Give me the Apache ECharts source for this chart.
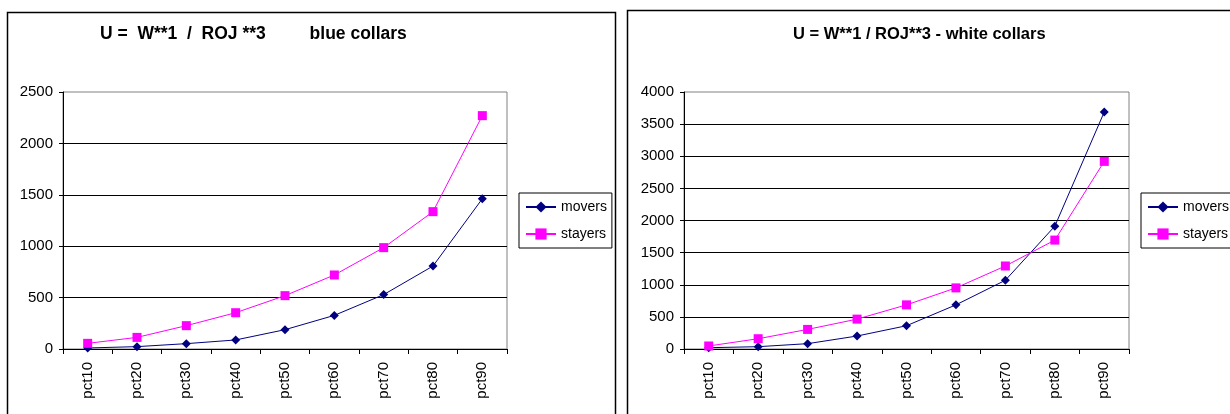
<!DOCTYPE html>
<html>
<head>
<meta charset="utf-8">
<script src="https://cdn.jsdelivr.net/npm/echarts@6/dist/echarts.min.js"></script>
<style>
html,body{margin:0;padding:0;background:#fff;}
#c{width:1230px;height:414px;}
</style>
</head>
<body>
<div id="c"></div>
<script>
const categories = ['pct10','pct20','pct30','pct40','pct50','pct60','pct70','pct80','pct90'];
const blueMovers  = [10, 23, 52, 88, 188, 327, 529, 807, 1462];
const blueStayers = [55, 113, 227, 353, 519, 720, 986, 1336, 2270];
const whiteMovers  = [20, 36, 83, 202, 362, 687, 1070, 1912, 3690];
const whiteStayers = [47, 160, 305, 465, 687, 951, 1292, 1695, 2920];
const titleBlue = 'U =  W**1  /  ROJ **3         blue collars';
const titleWhite = 'U = W**1 / ROJ**3 - white collars';
const seriesNames = ['movers', 'stayers'];

const FONT = 'Liberation Sans, Arial, sans-serif';
const chart = echarts.init(document.getElementById('c'), null, {renderer: 'canvas'});

function xAxis(gi) {
  return {
    gridIndex: gi, type: 'category', data: categories, boundaryGap: true,
    axisLine: {lineStyle: {color: '#000', width: 1}},
    axisTick: {show: true, length: 5, lineStyle: {color: '#000'}},
    axisLabel: {rotate: 90, margin: 13, color: '#000', fontSize: 15, fontFamily: FONT},
    splitLine: {show: false}
  };
}
function yAxis(gi, max) {
  return {
    gridIndex: gi, type: 'value', min: 0, max: max, interval: 500,
    axisLine: {show: true, lineStyle: {color: '#000', width: 1}},
    axisTick: {show: true, length: 4, lineStyle: {color: '#000'}},
    axisLabel: {margin: 10, color: '#000', fontSize: 15, fontFamily: FONT,
      formatter: function (v) { return String(v); }},
    splitLine: {show: true, showMaxLine: false, lineStyle: {color: '#000', width: 1}}
  };
}
function legend(left) {
  return {
    data: seriesNames, orient: 'vertical', left: left, top: 193,
    itemWidth: 30, itemHeight: 14, itemGap: 13,
    padding: [7, 5, 7, 6], borderColor: '#000', borderWidth: 1,
    backgroundColor: '#fff',
    textStyle: {color: '#000', fontSize: 14, fontFamily: FONT},
    selectedMode: false
  };
}
function line(name, data, gi, color, symbol, size) {
  return {
    name: name, type: 'line', xAxisIndex: gi, yAxisIndex: gi, data: data,
    symbol: symbol, symbolSize: size,
    lineStyle: {color: color, width: 1},
    itemStyle: {color: color},
    animation: false
  };
}

chart.setOption({
  animation: false,
  title: [
    {text: titleBlue, left: 100, top: 25, padding: 0,
     textStyle: {fontSize: 17.5, fontWeight: 'bold', color: '#000', fontFamily: FONT}},
    {text: titleWhite, left: 793, top: 26, padding: 0,
     textStyle: {fontSize: 16.5, fontWeight: 'bold', color: '#000', fontFamily: FONT}}
  ],
  legend: [legend(519), legend(1141)],
  grid: [
    {left: 63, top: 92, width: 444, height: 257, show: true, borderColor: '#808080', borderWidth: 1, backgroundColor: 'transparent'},
    {left: 684, top: 92, width: 445, height: 257, show: true, borderColor: '#808080', borderWidth: 1, backgroundColor: 'transparent'}
  ],
  xAxis: [xAxis(0), xAxis(1)],
  yAxis: [yAxis(0, 2500), yAxis(1, 4000)],
  series: [
    line(seriesNames[0], blueMovers, 0, '#000080', 'diamond', 9),
    line(seriesNames[1], blueStayers, 0, '#FF00FF', 'rect', 9),
    line(seriesNames[0], whiteMovers, 1, '#000080', 'diamond', 9),
    line(seriesNames[1], whiteStayers, 1, '#FF00FF', 'rect', 9)
  ],
  graphic: [
    {type: 'rect', shape: {x: 7.5, y: 12.5, width: 608, height: 430}, style: {fill: 'none', stroke: '#000', lineWidth: 1.5}, silent: true},
    {type: 'rect', shape: {x: 627.5, y: 10.5, width: 700, height: 430}, style: {fill: 'none', stroke: '#000', lineWidth: 1.5}, silent: true}
  ]
});
</script>
</body>
</html>
